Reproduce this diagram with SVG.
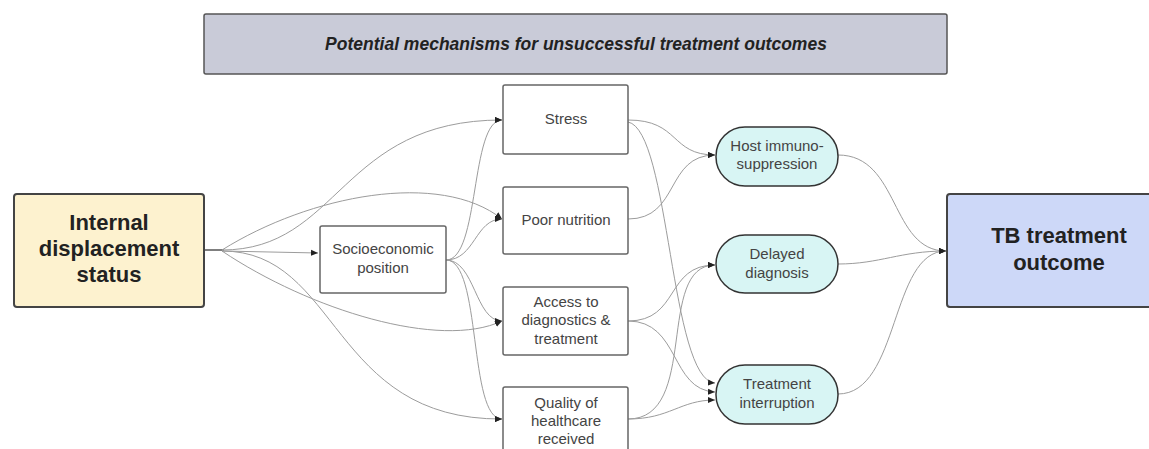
<svg xmlns="http://www.w3.org/2000/svg" width="1149" height="449" viewBox="0 0 1149 449">
<style>
text{font-family:"Liberation Sans",Arial,sans-serif;fill:#333;text-anchor:middle;dominant-baseline:central}
.big{font-size:22px;font-weight:bold;fill:#222}
.sm{font-size:15px;fill:#444}
.box{fill:#fff;stroke:#666;stroke-width:1.5}
.pill{fill:#d8f5f4;stroke:#333;stroke-width:1.5}
.c{fill:none;stroke:#9c9c9c;stroke-width:1;marker-end:url(#ah)}
</style>
<defs>
<marker id="ah" markerWidth="8" markerHeight="8" refX="7" refY="4" orient="auto" markerUnits="userSpaceOnUse">
<path d="M0,1 L7,4 L0,7 Z" fill="#222"/>
</marker>
</defs>
<rect width="1149" height="449" fill="#fff"/>
<g id="title">
<rect x="204" y="14" width="743" height="60" rx="2" fill="#c9cbd8" stroke="#555" stroke-width="1.5"/>
<text x="576" y="44" style="font-size:17.5px;font-style:italic;font-weight:bold;fill:#222">Potential mechanisms for unsuccessful treatment outcomes</text>
</g>
<g id="connectors">
<path d="M204,250 L224,250" fill="none" stroke="#555" stroke-width="1.5"/>
<path class="c" d="M222,250 C340,250 340,120 502,120"/>
<path class="c" d="M222,250 C310,195 440,170 502,219"/>
<path class="c" d="M222,251 L318,253"/>
<path class="c" d="M222,251 C310,310 440,350 502,321"/>
<path class="c" d="M222,251 C340,251 330,420 502,419"/>
<path class="c" d="M446,260 C480,260 470,120 502,120"/>
<path class="c" d="M446,260 C475,260 475,219 502,219"/>
<path class="c" d="M446,260 C475,260 475,321 502,321"/>
<path class="c" d="M446,260 C482,260 468,419 502,419"/>
<path class="c" d="M628,120 C680,120 670,155 715,155"/>
<path class="c" d="M628,122 C670,130 670,380 715,383"/>
<path class="c" d="M628,219 C680,219 665,155 715,155"/>
<path class="c" d="M628,321 C680,321 665,265 715,265"/>
<path class="c" d="M628,321 C680,321 670,390 715,392"/>
<path class="c" d="M628,419 C700,419 655,265 715,265"/>
<path class="c" d="M628,419 C670,419 680,400 715,400"/>
<path class="c" d="M838,155 C900,155 890,251 946,251"/>
<path class="c" d="M838,264 C880,264 900,251 946,251"/>
<path class="c" d="M838,394 C900,394 890,251 946,251"/>
</g>
<g id="internal">
<rect x="14" y="194" width="190" height="113" rx="3" fill="#fdf2cf" stroke="#444" stroke-width="2"/>
<text class="big" x="109" y="222">Internal</text>
<text class="big" x="109" y="248">displacement</text>
<text class="big" x="109" y="274">status</text>
</g>
<g id="socio">
<rect class="box" x="320" y="226" width="126" height="67" rx="2"/>
<text class="sm" x="383" y="248">Socioeconomic</text>
<text class="sm" x="383" y="267">position</text>
</g>
<g id="stress">
<rect class="box" x="503" y="85" width="125" height="69" rx="2"/>
<text class="sm" x="566" y="118">Stress</text>
</g>
<g id="nutrition">
<rect class="box" x="503" y="187" width="125" height="67" rx="2"/>
<text class="sm" x="566" y="219">Poor nutrition</text>
</g>
<g id="access">
<rect class="box" x="503" y="287" width="125" height="68" rx="2"/>
<text class="sm" x="566" y="301">Access to</text>
<text class="sm" x="566" y="319">diagnostics &amp;</text>
<text class="sm" x="566" y="338">treatment</text>
</g>
<g id="quality">
<rect class="box" x="503" y="387" width="125" height="70" rx="2"/>
<text class="sm" x="566" y="402">Quality of</text>
<text class="sm" x="566" y="420">healthcare</text>
<text class="sm" x="566" y="438">received</text>
</g>
<g id="host">
<rect class="pill" x="716" y="127" width="122" height="59" rx="29"/>
<text class="sm" x="777" y="145">Host immuno-</text>
<text class="sm" x="777" y="163">suppression</text>
</g>
<g id="delayed">
<rect class="pill" x="716" y="235" width="122" height="58" rx="29"/>
<text class="sm" x="777" y="253">Delayed</text>
<text class="sm" x="777" y="272">diagnosis</text>
</g>
<g id="interruption">
<rect class="pill" x="716" y="365" width="122" height="59" rx="29"/>
<text class="sm" x="777" y="383">Treatment</text>
<text class="sm" x="777" y="402">interruption</text>
</g>
<g id="tb">
<rect x="947" y="194" width="210" height="113" rx="3" fill="#cdd8f8" stroke="#444" stroke-width="2"/>
<text class="big" x="1059" y="235">TB treatment</text>
<text class="big" x="1059" y="262">outcome</text>
</g>
</svg>
